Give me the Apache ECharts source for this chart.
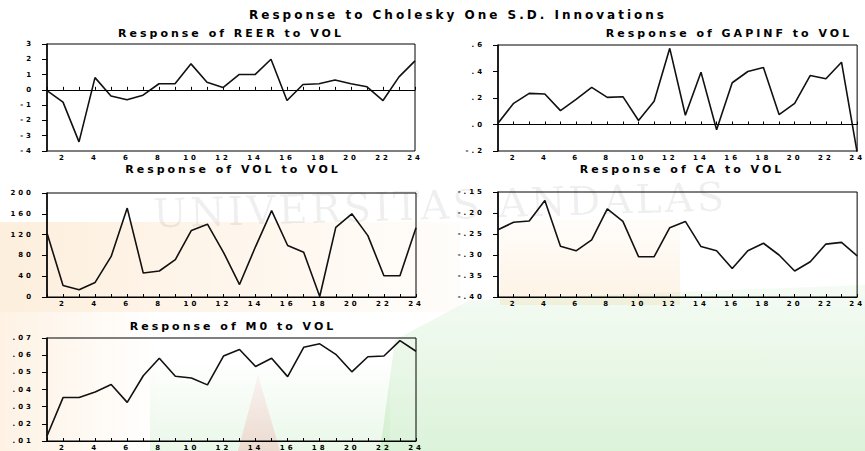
<!DOCTYPE html>
<html>
<head>
<meta charset="utf-8">
<script src="https://cdn.jsdelivr.net/npm/echarts@6/dist/echarts.min.js"></script>
<style>
html, body { margin: 0; padding: 0; background: #fff; }
#chart { width: 865px; height: 451px; }
#chart text { letter-spacing: 3px; }
</style>
</head>
<body>
<div id="chart"></div>
<script>
// periods 1..24
const steps = ['1','2','3','4','5','6','7','8','9','10','11','12','13','14','15','16','17','18','19','20','21','22','23','24'];

const reer = [-0.05, -0.8, -3.4, 0.8, -0.4, -0.65, -0.35, 0.4, 0.4, 1.7, 0.5, 0.15, 1.0, 1.0, 2.0, -0.7, 0.35, 0.4, 0.65, 0.4, 0.2, -0.7, 0.85, 1.9];
const gapinf = [0.01, 0.16, 0.235, 0.23, 0.105, 0.19, 0.28, 0.205, 0.21, 0.03, 0.175, 0.575, 0.07, 0.395, -0.04, 0.315, 0.40, 0.43, 0.075, 0.16, 0.37, 0.345, 0.47, -0.21];
const vol = [123, 22, 14, 28, 78, 171, 46, 50, 72, 128, 140, 86, 24, 97, 166, 99, 86, 1, 134, 160, 118, 41, 41, 133];
const ca = [-0.24, -0.222, -0.219, -0.17, -0.279, -0.29, -0.264, -0.19, -0.22, -0.304, -0.304, -0.235, -0.22, -0.28, -0.29, -0.332, -0.29, -0.272, -0.30, -0.338, -0.316, -0.274, -0.27, -0.302];
const m0 = [0.0129, 0.0353, 0.0353, 0.0386, 0.0429, 0.0325, 0.048, 0.0582, 0.0477, 0.0467, 0.0427, 0.0595, 0.0633, 0.0534, 0.0582, 0.0475, 0.0646, 0.0666, 0.0605, 0.0503, 0.0591, 0.0595, 0.0685, 0.0623];

const mainTitle = 'Response to Cholesky One S.D. Innovations';
const panelTitles = ['Response of REER to VOL', 'Response of GAPINF to VOL', 'Response of VOL to VOL', 'Response of CA to VOL', 'Response of M0 to VOL'];

// y axis ranges [min, max, interval, decimals]
const yRanges = [
  [-4, 3, 1, 0],
  [-0.2, 0.6, 0.2, 1],
  [0, 200, 40, 0],
  [-0.40, -0.15, 0.05, 2],
  [0.01, 0.07, 0.01, 2]
];
const allSeries = [reer, gapinf, vol, ca, m0];

// panel boxes
const grids = [
  { left: 47, top: 44, width: 368, height: 107 },
  { left: 498, top: 45, width: 364, height: 106 },
  { left: 47, top: 193, width: 369, height: 104 },
  { left: 498, top: 192, width: 364, height: 105 },
  { left: 47, top: 338, width: 369, height: 105 }
];
const titlePos = [[231, 33], [729, 33], [233, 169], [682, 169], [233, 326]];

const FONT = '"DejaVu Sans", sans-serif';

function fmt(dec) {
  return function (v) {
    let s = v.toFixed(dec);
    if (dec > 0) s = s.replace('0.', '.');
    return s;
  };
}

function grad(x2, y2, c, a0, a1) {
  return new echarts.graphic.LinearGradient(0, 0, x2, y2, [
    { offset: 0, color: 'rgba(' + c + ',' + a0 + ')' },
    { offset: 1, color: 'rgba(' + c + ',' + a1 + ')' }
  ]);
}

// faint scanned watermark behind the charts
const PEACH = '250,212,165';
const GREEN = '185,230,180';
const backdrop = [
  { type: 'rect', shape: { x: 0, y: 222, width: 460, height: 90 }, style: { fill: grad(1, 0, PEACH, 0.38, 0.05) } },
  { type: 'rect', shape: { x: 0, y: 312, width: 160, height: 139 }, style: { fill: grad(1, 0, PEACH, 0.3, 0) } },
  { type: 'rect', shape: { x: 500, y: 220, width: 180, height: 85 }, style: { fill: grad(0, 1, PEACH, 0.05, 0.3) } },
  { type: 'polygon', shape: { points: [[380, 451], [395, 340], [470, 300], [865, 285], [865, 451]] }, style: { fill: grad(0, 1, GREEN, 0.15, 0.5) } },
  { type: 'rect', shape: { x: 150, y: 360, width: 240, height: 91 }, style: { fill: grad(0, 1, GREEN, 0, 0.3) } },
  { type: 'polygon', shape: { points: [[238, 451], [258, 375], [280, 451]] }, style: { fill: grad(0, 1, '240,150,150', 0.1, 0.3) } },
  {
    type: 'text', x: 440, y: 205, rotation: 0.03,
    style: { text: 'UNIVERSITAS ANDALAS', textAlign: 'center', textVerticalAlign: 'middle',
      font: '40px "DejaVu Serif", serif', fill: 'rgba(0,0,0,0.07)' }
  }
].map(el => Object.assign({ silent: true, z: -10 }, el));

const chart = echarts.init(document.getElementById('chart'), null, { renderer: 'svg' });

const option = {
  backgroundColor: '#fff',
  animation: false,
  grid: grids.map(g => Object.assign({ show: true, borderColor: '#000', borderWidth: 1, backgroundColor: 'transparent' }, g)),
  xAxis: grids.map((g, i) => ({
    type: 'category',
    gridIndex: i,
    data: steps,
    boundaryGap: false,
    axisLine: { lineStyle: { color: '#000', width: 1 } },
    axisTick: { show: true, inside: true, length: 3, interval: 0, lineStyle: { color: '#000' } },
    axisLabel: {
      interval: (idx) => idx % 2 === 1,
      margin: 3,
      color: '#000',
      fontSize: 7,
      fontWeight: 'bold',
      fontFamily: FONT
    },
    splitLine: { show: false }
  })),
  yAxis: yRanges.map((r, i) => ({
    type: 'value',
    gridIndex: i,
    min: r[0],
    max: r[1],
    interval: r[2],
    axisLine: { show: true, lineStyle: { color: '#000', width: 1.5 } },
    axisTick: { show: true, length: 5, lineStyle: { color: '#000' } },
    axisLabel: {
      formatter: fmt(r[3]),
      margin: 13,
      color: '#000',
      fontSize: 7,
      fontWeight: 'bold',
      fontFamily: FONT
    },
    splitLine: { show: false }
  })),
  series: allSeries.map((d, i) => {
    const s = {
      type: 'line',
      xAxisIndex: i,
      yAxisIndex: i,
      data: d,
      symbol: 'none',
      clip: true,
      lineStyle: { color: '#111', width: 1.6 },
      z: 3
    };
    if (i < 2) {
      s.markLine = {
        silent: true,
        symbol: 'none',
        label: { show: false },
        lineStyle: { color: '#000', width: 1, type: 'solid' },
        data: [{ yAxis: 0 }]
      };
    }
    return s;
  }),
  graphic: backdrop.concat([
    {
      type: 'text', x: 458, y: 15,
      style: { text: mainTitle, textAlign: 'center', textVerticalAlign: 'middle',
        font: 'bold 12px ' + FONT, fill: '#000' }
    }
  ]).concat(panelTitles.map((t, i) => ({
    type: 'text', x: titlePos[i][0], y: titlePos[i][1],
    style: { text: t, textAlign: 'center', textVerticalAlign: 'middle',
      font: 'bold 11px ' + FONT, fill: '#000' }
  })))
};

chart.setOption(option);
</script>
</body>
</html>
